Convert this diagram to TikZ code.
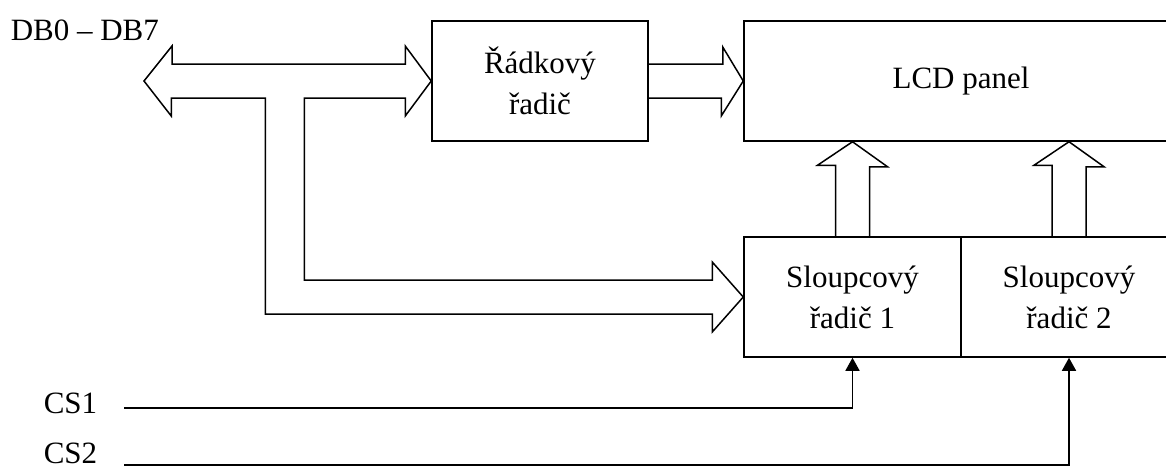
\documentclass[tikz,border=0pt]{standalone}
\usepackage{fontspec}
\setmainfont{Liberation Serif}
\usepackage{tikz}
\usetikzlibrary{arrows.meta,calc,positioning}

\begin{document}
\begin{tikzpicture}[x=1pt,y=-1pt,>={Triangle[length=13pt,width=14pt]},
                    line width=1.5pt,font=\fontsize{31}{41}\selectfont,
                    box node/.style={draw,align=center,inner sep=0pt,minimum height=120pt},
                    label node/.style={anchor=base west,inner sep=0pt},
                    bus/.style={draw,line join=miter},
                    signal/.style={->}]

  \useasboundingbox (0,0) rectangle (1166,472);
  \clip (0,0) rectangle (1166,472);

  \node[box node, minimum width=216pt] (row) at (540,81) {Řádkový\\řadič};
  \node[box node, minimum width=434pt] (lcd) at (961,81) {LCD panel};
  \node[box node, minimum width=217pt] (col1) at (852.5,297) {Sloupcový\\řadič 1};
  \node[box node, minimum width=216pt] (col2) at (1069,297) {Sloupcový\\řadič 2};

  \node[label node] (db) at (10,40.5) {DB0 – DB7};
  \node[label node] (cs1) at (43,413) {CS1};
  \node[label node] (cs2) at (43,463) {CS2};

  \coordinate (bus) at (144,81);
  \coordinate (cs1in) at (124,408);
  \coordinate (cs2in) at (124,465);

  % data bus
  \draw[bus] (bus) -- ++(28,-35) -- ++(0,18) -- ($(row.west)+(-26,-17)$) -- ++(0,-18)
    -- (row.west) -- ++(-26,35) -- ++(0,-18) -- ++(-101,0)
    |- ($(col1.west)+(-31,-17)$) -- ++(0,-18) -- (col1.west) -- ++(-31,35)
    -- ++(0,-18) -- ++(-447,0) -- ++(0,-216) -- ++(-94,0) -- ++(0,18) -- cycle;

  % row driver to panel
  \draw[bus] ($(row.east)+(0,-17)$) -- ++(74,0) -- ++(0,-17) -- (lcd.west)
    -- ++(-22,35) -- ++(0,-18) -- ($(row.east)+(0,17)$);

  % column drivers to panel
  \draw[bus] ($(col1.north)+(-17,0)$) -- ++(0,-71) -- ++(-18,0) -- (col1.north |- lcd.south)
    -- ++(35,25) -- ++(-18,0) -- ($(col1.north)+(17,0)$);
  \draw[bus] ($(col2.north)+(-17,0)$) -- ++(0,-71) -- ++(-18,0) -- (col2.north |- lcd.south)
    -- ++(35,25) -- ++(-18,0) -- ($(col2.north)+(17,0)$);

  % chip selects
  \draw[signal] (cs1in) -| (col1.south);
  \draw[signal] (cs2in) -| (col2.south);

\end{tikzpicture}
\end{document}
